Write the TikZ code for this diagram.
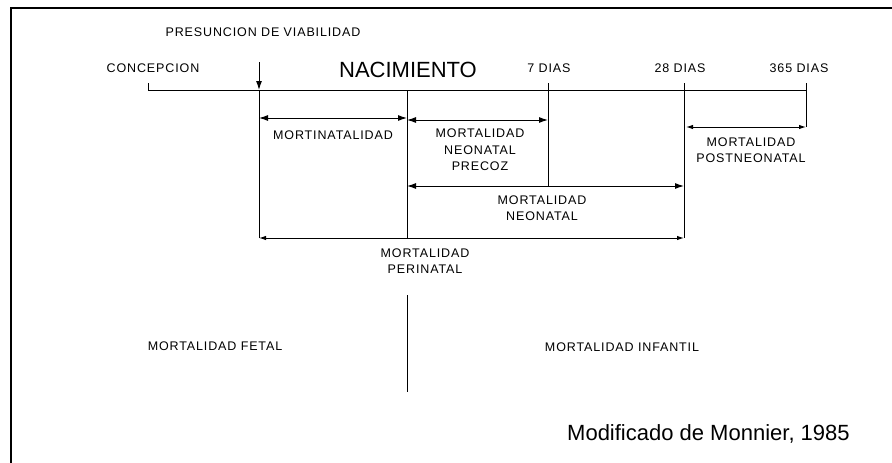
\documentclass[tikz,border=0pt]{standalone}
\usepackage{fontspec}
\setmainfont{Liberation Sans}
\newfontfamily\lsfont[LetterSpace=7]{Liberation Sans}
\usetikzlibrary{arrows.meta}
\begin{document}
\begin{tikzpicture}[x=1pt,y=-1pt,
  lbl/.style={font=\lsfont\fontsize{12.5}{16.5}\selectfont, align=center, inner sep=0pt},
  big/.style={font=\fontsize{22}{26}\selectfont, inner sep=0pt},
  rule/.style={line width=1pt},
  dimarrow/.style={line width=1pt, {Latex[length=9pt,width=6pt]}-{Latex[length=9pt,width=6pt]}},
  smallarrow/.style={line width=1pt, {Latex[length=7pt,width=4.5pt]}-{Latex[length=7pt,width=4.5pt]}},
  downarrow/.style={line width=1pt, -{Latex[length=9pt,width=6pt]}}]
\useasboundingbox (0,0) rectangle (892,463);
% frame
\draw[line width=2.5pt] (11,463) -- (11,8) -- (892,8);
% time points
\coordinate (c0t) at (148,83);
\coordinate (c0) at (148,90);
\coordinate (vtop) at (259,62);
\coordinate (v) at (259,90);
\coordinate (vbot) at (259,238);
\coordinate (b) at (407,90);
\coordinate (bmid) at (407,238);
\coordinate (blow1) at (407,295);
\coordinate (blow2) at (407,392);
\coordinate (d7t) at (548,83);
\coordinate (d7b) at (548,187);
\coordinate (d28t) at (684,83);
\coordinate (d28b) at (684,238);
\coordinate (d365t) at (806,83);
\coordinate (d365) at (806,90);
\coordinate (d365b) at (806,127);
% dimension ends
\coordinate (m1) at (259,118);
\coordinate (m2) at (407,118);
\coordinate (p1) at (407,120);
\coordinate (p2) at (548,120);
\coordinate (n1) at (407,186);
\coordinate (n2) at (684,186);
\coordinate (q1) at (259,238);
\coordinate (q2) at (684,238);
\coordinate (s1) at (686,127);
\coordinate (s2) at (806,127);
% timeline and verticals
\draw[rule] (c0t) -- (c0) -- (d365);
\draw[downarrow] (vtop) -- (v);
\draw[rule] (v) -- (vbot);
\draw[rule] (b) -- (bmid);
\draw[rule] (blow1) -- (blow2);
\draw[rule] (d7t) -- (d7b);
\draw[rule] (d28t) -- (d28b);
\draw[rule] (d365t) -- (d365b);
% dimension arrows
\draw[dimarrow] (m1) -- (m2);
\draw[dimarrow] (p1) -- (p2);
\draw[dimarrow] (n1) -- (n2);
\draw[smallarrow] (q1) -- (q2);
\draw[smallarrow] (s1) -- (s2);
% labels
\node[lbl] (pres) at (263,32) {PRESUNCION DE VIABILIDAD};
\node[lbl] (conc) at (153,68) {CONCEPCION};
\node[big] (nac) at (408,70) {NACIMIENTO};
\node[lbl] (t7) at (549,68) {7 DIAS};
\node[lbl] (t28) at (680,68) {28 DIAS};
\node[lbl] (t365) at (799,68) {365 DIAS};
\node[lbl] (mort) at (333,135) {MORTINATALIDAD};
\node[lbl] (prec) at (480,150) {MORTALIDAD\\NEONATAL\\PRECOZ};
\node[lbl] (post) at (751,150) {MORTALIDAD\\POSTNEONATAL};
\node[lbl] (neo) at (542,208) {MORTALIDAD\\NEONATAL};
\node[lbl] (peri) at (425,261) {MORTALIDAD\\PERINATAL};
\node[lbl] (fetal) at (215,346) {MORTALIDAD FETAL};
\node[lbl] (inf) at (622,347) {MORTALIDAD INFANTIL};
\node[big, anchor=base west] (src) at (567,440) {Modificado de Monnier, 1985};
\end{tikzpicture}
\end{document}
